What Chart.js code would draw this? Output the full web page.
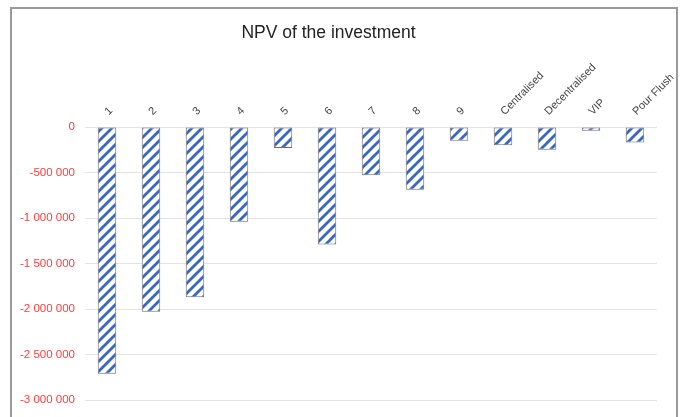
<!DOCTYPE html>
<html>
<head>
<meta charset="utf-8">
<script src="https://cdn.jsdelivr.net/npm/chart.js@4"></script>
<style>
  body { margin:0; background:#fff; }
  #wrap { position:relative; width:686px; height:417px; }
  #frame { position:absolute; left:10px; top:7px; width:668px; height:420px; border:2px solid #9a9a9a; box-sizing:border-box; pointer-events:none; }
</style>
</head>
<body>
<div id="wrap">
  <canvas id="chart" width="686" height="417"></canvas>
  <div id="frame"></div>
</div>
<script>
// Data
const categories = ['1','2','3','4','5','6','7','8','9','Centralised','Decentralised','VIP','Pour Flush'];
const npvValues = [-2710000,-2030000,-1870000,-1040000,-230000,-1290000,-530000,-690000,-150000,-200000,-250000,-40000,-170000];
const yTicks = [0,-500000,-1000000,-1500000,-2000000,-2500000,-3000000];

// hatch pattern for the bars ("/" stripes)
function makeHatch(){
  const n = 10;
  const c = document.createElement('canvas');
  c.width = n; c.height = n;
  const g = c.getContext('2d');
  g.fillStyle = '#ffffff';
  g.fillRect(0,0,n,n);
  g.strokeStyle = '#3866c6';
  g.lineWidth = 2.8;
  g.beginPath();
  g.moveTo(-3,3); g.lineTo(3,-3);
  g.moveTo(-3,n+3); g.lineTo(n+3,-3);
  g.moveTo(n-3,n+3); g.lineTo(n+3,n-3);
  g.stroke();
  return g.createPattern(c,'repeat');
}

const ctx = document.getElementById('chart').getContext('2d');

new Chart(ctx, {
  type:'bar',
  data:{
    labels:categories,
    datasets:[{
      data:npvValues,
      backgroundColor:makeHatch(),
      borderColor:'#6e6e6e',
      borderWidth:1,
      borderSkipped:false,
      barPercentage:0.42,
      categoryPercentage:1
    }]
  },
  options:{
    responsive:false,
    animation:false,
    layout:{ padding:{ top:0, left:0, right:29, bottom:13 } },
    plugins:{
      legend:{ display:false },
      tooltip:{ enabled:false },
      title:{
        display:true,
        text:'NPV of the investment',
        color:'#222',
        font:{ family:'Liberation Sans, Arial', size:17.5, weight:'normal' },
        padding:{ top:22.5, bottom:0 }
      }
    },
    scales:{
      x:{
        position:'top',
        grid:{ display:false },
        border:{ display:false },
        ticks:{
          autoSkip:false,
          minRotation:45,
          maxRotation:45,
          padding:1,
          labelOffset:9,
          color:'#444',
          font:{ family:'Liberation Sans, Arial', size:11 }
        },
        afterFit:s => { s.height = 83.5; }
      },
      y:{
        min:-3000000,
        max:0,
        afterBuildTicks:s => { s.ticks = yTicks.map(v => ({ value:v })); },
        grid:{ color:'#e3e3e3', drawTicks:false },
        border:{ display:false },
        ticks:{
          padding:10,
          color:'#ff3b3b',
          font:{ family:'Liberation Sans, Arial', size:11.5 },
          callback:v => v.toLocaleString('en-US').replace(/,/g,' ')
        },
        afterFit:s => { s.width = 85; }
      }
    }
  }
});
</script>
</body>
</html>
